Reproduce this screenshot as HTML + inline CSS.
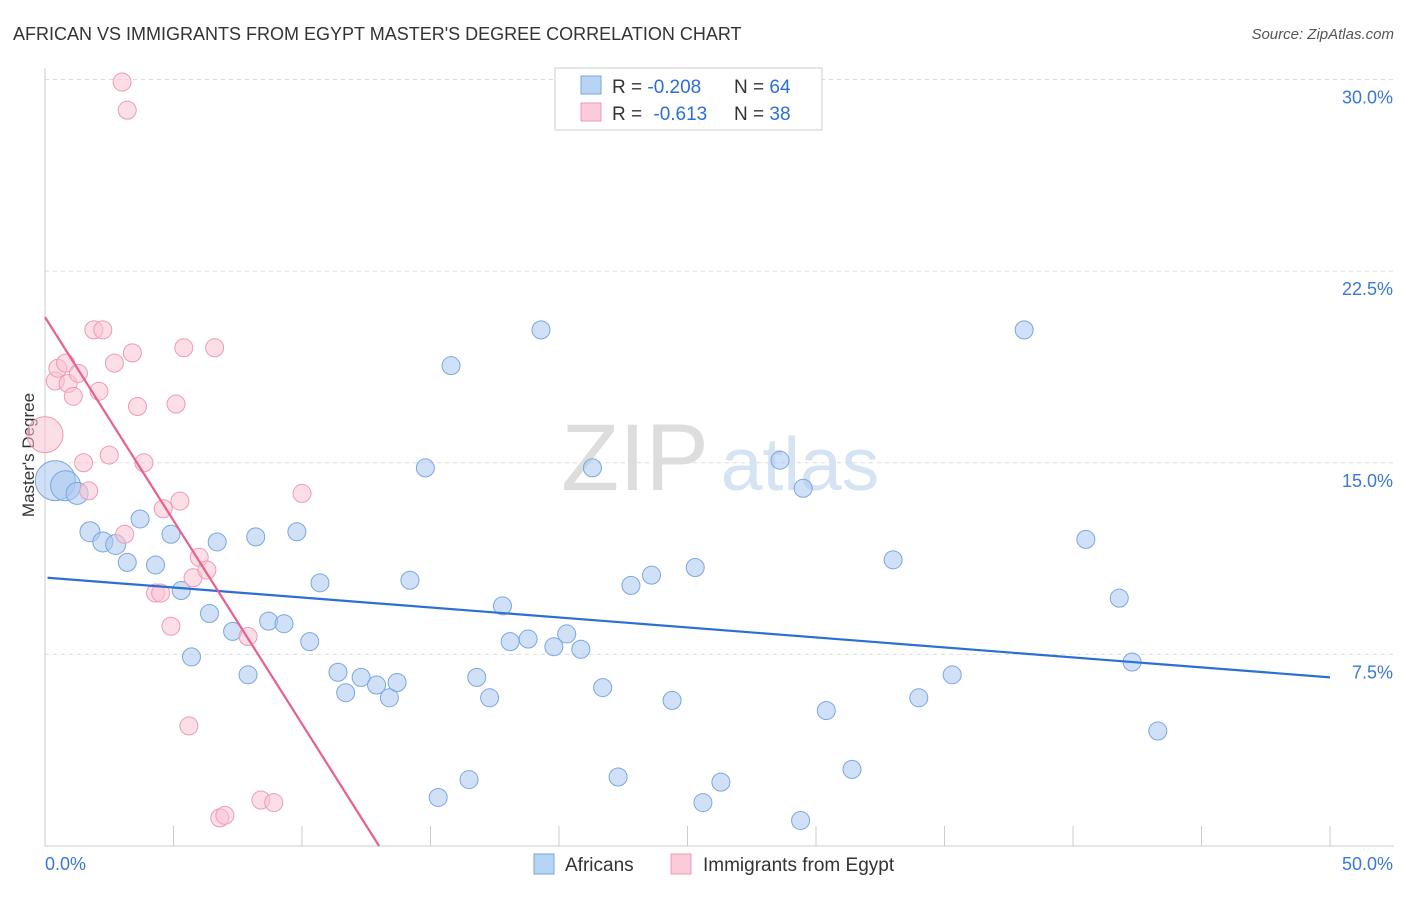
<!DOCTYPE html>
<html><head><meta charset="utf-8">
<style>
body{margin:0;background:#fff;font-family:"Liberation Sans",sans-serif;}
svg text{font-family:"Liberation Sans",sans-serif;}
</style></head>
<body>
<svg id="chart" width="1406" height="892">
<text x="13" y="40" font-size="18" fill="#333">AFRICAN VS IMMIGRANTS FROM EGYPT MASTER'S DEGREE CORRELATION CHART</text>
<text x="1394" y="39" font-size="15" fill="#555" text-anchor="end" font-style="italic">Source: ZipAtlas.com</text>
<text x="34" y="455" font-size="17" fill="#333" text-anchor="middle" transform="rotate(-90 34 455)">Master's Degree</text>
<g><text x="635" y="490" font-size="95" fill="#ddd" text-anchor="middle" font-family="Liberation Serif,serif">ZIP</text><text x="800" y="490" font-size="75" fill="#d5e3f3" text-anchor="middle">atlas</text></g>
<g id="grid"></g><g id="axes"></g><g id="pts"></g><g id="lines"></g>
<g>
<rect x="555" y="68" width="267" height="62" fill="#fff" stroke="#ccc"/>
<rect x="581" y="76" width="20" height="18" fill="#b8d3f4" stroke="#7aa7e0"/>
<rect x="581" y="103" width="20" height="18" fill="#fbcbd9" stroke="#ef9ab5"/>
<text x="612" y="93" font-size="19" fill="#333">R = <tspan fill="#2b6fd6">-0.208</tspan><tspan x="734">N = </tspan><tspan fill="#2b6fd6">64</tspan></text>
<text x="612" y="120" font-size="19" fill="#333">R = <tspan fill="#2b6fd6" dx="6">-0.613</tspan><tspan x="734">N = </tspan><tspan fill="#2b6fd6">38</tspan></text>
</g>
<g>
<rect x="534" y="854" width="20" height="20" fill="#b8d3f4" stroke="#7aa7e0"/>
<text x="565" y="871" font-size="19" fill="#333">Africans</text>
<rect x="671" y="854" width="20" height="20" fill="#fbcbd9" stroke="#ef9ab5"/>
<text x="703" y="871" font-size="19" fill="#333">Immigrants from Egypt</text>
</g>
</svg>
<script>
const yTicks=[7.5,15,22.5,30];
const yTickLabels=["7.5%","15.0%","22.5%","30.0%"];
const xEnds=[0,50];
const xEndLabels=["0.0%","50.0%"];
const afrX=[0.4,0.8,1.25,1.75,2.25,2.75,3.2,3.7,4.3,4.9,5.3,5.7,6.4,6.7,7.3,7.9,8.2,8.7,9.3,9.8,10.3,10.7,11.4,11.7,12.3,12.9,13.4,13.7,14.2,14.8,15.3,15.8,16.5,16.8,17.3,17.8,18.1,18.8,19.3,19.8,20.3,20.85,21.3,21.7,22.3,22.8,23.6,24.4,25.3,25.6,26.3,28.6,29.4,29.5,30.4,31.4,33.0,34.0,35.3,38.1,40.5,41.8,42.3,43.3];
const afrY=[14.3,14.1,13.8,12.3,11.9,11.8,11.1,12.8,11.0,12.2,10.0,7.4,9.1,11.9,8.4,6.7,12.1,8.8,8.7,12.3,8.0,10.3,6.8,6.0,6.6,6.3,5.8,6.4,10.4,14.8,1.9,18.8,2.6,6.6,5.8,9.4,8.0,8.1,20.2,7.8,8.3,7.7,14.8,6.2,2.7,10.2,10.6,5.7,10.9,1.7,2.5,15.1,1.0,14.0,5.3,3.0,11.2,5.8,6.7,20.2,12.0,9.7,7.2,4.5];
const afrR=[20,15,11,10,10,10,9,9,9,9,9,9,9,9,9,9,9,9,9,9,9,9,9,9,9,9,9,9,9,9,9,9,9,9,9,9,9,9,9,9,9,9,9,9,9,9,9,9,9,9,9,9,9,9,9,9,9,9,9,9,9,9,9,9];
const egyX=[3.0,3.2,0,0.4,0.5,0.8,0.9,1.1,1.3,1.5,1.7,1.9,2.25,2.1,2.5,2.7,3.1,3.4,3.6,3.85,4.3,4.5,4.6,4.9,5.1,5.25,5.4,5.6,5.76,6.0,6.3,6.6,6.8,7.0,7.9,8.4,8.9,10.0];
const egyY=[29.9,28.8,16.1,18.2,18.7,18.9,18.1,17.6,18.5,15.0,13.9,20.2,20.2,17.8,15.3,18.9,12.2,19.3,17.2,15.0,9.9,9.9,13.2,8.6,17.3,13.5,19.5,4.7,10.5,11.3,10.8,19.5,1.1,1.2,8.2,1.8,1.7,13.8];
const afrTrend=[10.5,6.6];
const egyTrend=[20.7,0];
const egyTrendX=[0,13];
const NS="http://www.w3.org/2000/svg";
const X=v=>45+v*25.7, Y=v=>846-v*25.55;
function mk(p,t,a){const e=document.createElementNS(NS,t);for(const k in a)e.setAttribute(k,a[k]);document.getElementById(p).appendChild(e);return e;}
yTicks.forEach((t,i)=>{
 const l=mk('grid','line',{x1:45,x2:1394,y1:Y(t),y2:Y(t),stroke:'#ddd','stroke-dasharray':'4,4'});
 
 
 const tx=mk('grid','text',{x:1393,y:Y(t)+24,'font-size':18,fill:'#3a78d6','text-anchor':'end'});tx.textContent=yTickLabels[i];
 
 
});
const ax=mk('axes','line',{x1:45,x2:45,y1:68,y2:846,stroke:'#ccc'});


const bx=mk('axes','line',{x1:45,x2:1394,y1:846,y2:846,stroke:'#ccc'});


for(let i=0;i<=10;i++){const t=mk('axes','line',{x1:X(i*5),x2:X(i*5),y1:826,y2:846,stroke:'#ccc'});
 
 }
xEnds.forEach((v,i)=>{const t=mk('axes','text',{x:i?1393:45,y:870,'font-size':18,fill:'#3a78d6','text-anchor':i?'end':'start'});t.textContent=xEndLabels[i];
 
 });
afrX.forEach((v,i)=>{const c=mk('pts','circle',{cx:X(v),cy:Y(afrY[i]),r:afrR[i],fill:'rgba(170,200,240,0.55)',stroke:'#7aa7e0','stroke-width':1});
 
 });
egyX.forEach((v,i)=>{const c=mk('pts','circle',{cx:X(v),cy:Y(egyY[i]),r:i==2?18:9,fill:'rgba(250,195,212,0.55)',stroke:'#ef9ab5','stroke-width':1});
 
 });
const l1=mk('lines','line',{x1:X(0.1),y1:Y(afrTrend[0]),x2:X(50),y2:Y(afrTrend[1]),stroke:'#2b6fd6','stroke-width':2.2});


const l2=mk('lines','line',{x1:X(egyTrendX[0]),y1:Y(egyTrend[0]),x2:X(egyTrendX[1]),y2:Y(egyTrend[1]),stroke:'#e8608d','stroke-width':2.2});


</script>
</body></html>
